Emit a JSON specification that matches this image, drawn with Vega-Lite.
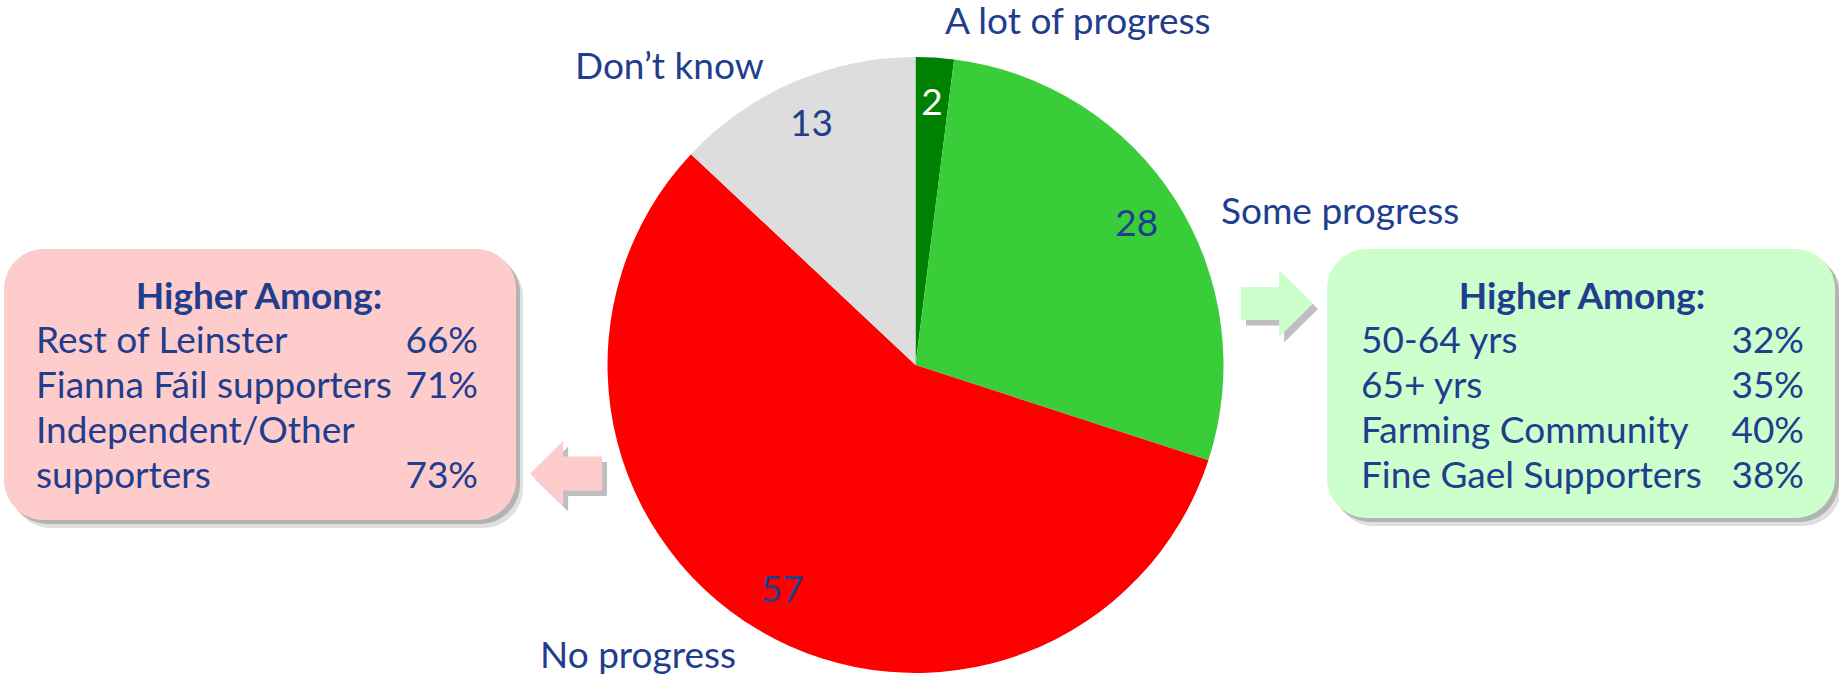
{
  "$schema": "https://vega.github.io/schema/vega-lite/v6.json",
  "width": 1831,
  "height": 622,
  "autosize": {"type": "none"},
  "padding": {"left": 0, "top": 54, "right": 8, "bottom": 0},
  "background": "#FFFFFF",
  "config": {"view": {"stroke": null}, "font": "Lato", "text": {"font": "Lato", "fontSize": 37, "color": "#213D8E"}},
  "datasets": {
    "pie": [
      {"category": "A lot of progress", "value": 2, "seq": 1},
      {"category": "Some progress", "value": 28, "seq": 2},
      {"category": "No progress", "value": 57, "seq": 3},
      {"category": "Don’t know", "value": 13, "seq": 4}
    ],
    "boxes": [
      {"group": "No progress", "header": "Higher Among:", "labels": ["Rest of Leinster", "Fianna Fáil supporters", "Independent/Other", "supporters"], "pcts": ["66%", "71%", "\u200B", "73%"]},
      {"group": "Some progress", "header": "Higher Among:", "labels": ["50-64 yrs", "65+ yrs", "Farming Community", "Fine Gael Supporters"], "pcts": ["32%", "35%", "40%", "38%"]}
    ]
  },
  "data": {"name": "pie"},
  "layer": [
    {
      "mark": {"type": "arc", "outerRadius": 308},
      "encoding": {
        "theta": {"field": "value", "type": "quantitative", "stack": true},
        "order": {"field": "seq", "type": "quantitative"},
        "color": {"field": "category", "type": "nominal", "legend": null,
          "scale": {"domain": ["A lot of progress", "Some progress", "No progress", "Don’t know"], "range": ["#008000", "#3ACD3A", "#FF0000", "#DDDDDD"]}}
      }
    },
    {
      "mark": {"type": "text", "radius": 262, "baseline": "middle", "align": "center", "fontSize": 37},
      "encoding": {
        "theta": {"field": "value", "type": "quantitative", "stack": true},
        "order": {"field": "seq", "type": "quantitative"},
        "text": {"field": "value", "type": "quantitative"},
        "color": {"condition": {"test": "datum.category === 'A lot of progress'", "value": "#FFFFFF"}, "value": "#213D8E"}
      }
    },
    {
      "transform": [{"filter": "datum.category === 'A lot of progress'"}],
      "mark": {"type": "text", "align": "left", "baseline": "alphabetic"},
      "encoding": {
        "text": {"field": "category", "type": "nominal"},
        "x": {"datum": 945, "type": "quantitative", "scale": {"domain": [0, 1831], "nice": false, "zero": false}, "axis": null},
        "y": {"datum": 34, "type": "quantitative", "scale": {"domain": [54, 676], "nice": false, "zero": false, "reverse": true}, "axis": null}
      }
    },
    {
      "transform": [{"filter": "datum.category === 'Some progress'"}],
      "mark": {"type": "text", "align": "left", "baseline": "alphabetic"},
      "encoding": {
        "text": {"field": "category", "type": "nominal"},
        "x": {"datum": 1221, "type": "quantitative", "scale": {"domain": [0, 1831], "nice": false, "zero": false}, "axis": null},
        "y": {"datum": 224, "type": "quantitative", "scale": {"domain": [54, 676], "nice": false, "zero": false, "reverse": true}, "axis": null}
      }
    },
    {
      "transform": [{"filter": "datum.category === 'No progress'"}],
      "mark": {"type": "text", "align": "left", "baseline": "alphabetic"},
      "encoding": {
        "text": {"field": "category", "type": "nominal"},
        "x": {"datum": 540, "type": "quantitative", "scale": {"domain": [0, 1831], "nice": false, "zero": false}, "axis": null},
        "y": {"datum": 668, "type": "quantitative", "scale": {"domain": [54, 676], "nice": false, "zero": false, "reverse": true}, "axis": null}
      }
    },
    {
      "transform": [{"filter": "datum.category === 'Don’t know'"}],
      "mark": {"type": "text", "align": "left", "baseline": "alphabetic"},
      "encoding": {
        "text": {"field": "category", "type": "nominal"},
        "x": {"datum": 575, "type": "quantitative", "scale": {"domain": [0, 1831], "nice": false, "zero": false}, "axis": null},
        "y": {"datum": 79, "type": "quantitative", "scale": {"domain": [54, 676], "nice": false, "zero": false, "reverse": true}, "axis": null}
      }
    },
    {
      "data": {"name": "boxes"},
      "transform": [{"filter": "datum.group === 'No progress'"}],
      "mark": {"type": "rect", "cornerRadius": 40, "color": "#000000", "opacity": 0.12},
      "encoding": {
        "x": {"datum": 11, "type": "quantitative", "scale": {"domain": [0, 1831], "nice": false, "zero": false}, "axis": null},
        "x2": {"datum": 523},
        "y": {"datum": 257, "type": "quantitative", "scale": {"domain": [54, 676], "nice": false, "zero": false, "reverse": true}, "axis": null},
        "y2": {"datum": 528}
      }
    },
    {
      "data": {"name": "boxes"},
      "transform": [{"filter": "datum.group === 'No progress'"}],
      "mark": {"type": "rect", "cornerRadius": 40, "color": "#000000", "opacity": 0.2},
      "encoding": {
        "x": {"datum": 8, "type": "quantitative", "scale": {"domain": [0, 1831], "nice": false, "zero": false}, "axis": null},
        "x2": {"datum": 520},
        "y": {"datum": 253, "type": "quantitative", "scale": {"domain": [54, 676], "nice": false, "zero": false, "reverse": true}, "axis": null},
        "y2": {"datum": 524}
      }
    },
    {
      "data": {"name": "boxes"},
      "transform": [{"filter": "datum.group === 'No progress'"}],
      "mark": {"type": "rect", "cornerRadius": 40, "color": "#FFCCCC", "opacity": 1},
      "encoding": {
        "x": {"datum": 4, "type": "quantitative", "scale": {"domain": [0, 1831], "nice": false, "zero": false}, "axis": null},
        "x2": {"datum": 516},
        "y": {"datum": 249, "type": "quantitative", "scale": {"domain": [54, 676], "nice": false, "zero": false, "reverse": true}, "axis": null},
        "y2": {"datum": 520}
      }
    },
    {
      "data": {"name": "boxes"},
      "transform": [{"filter": "datum.group === 'No progress'"}],
      "mark": {"type": "point", "shape": "M1,-0.47L-0.08,-0.47L-0.08,-0.9L-1,0L-0.08,0.9L-0.08,0.47L1,0.47Z", "filled": true, "size": 5184, "color": "#000000", "opacity": 0.25, "strokeWidth": 0},
      "encoding": {
        "x": {"datum": 571, "type": "quantitative", "scale": {"domain": [0, 1831], "nice": false, "zero": false}, "axis": null},
        "y": {"datum": 479, "type": "quantitative", "scale": {"domain": [54, 676], "nice": false, "zero": false, "reverse": true}, "axis": null}
      }
    },
    {
      "data": {"name": "boxes"},
      "transform": [{"filter": "datum.group === 'No progress'"}],
      "mark": {"type": "point", "shape": "M1,-0.47L-0.08,-0.47L-0.08,-0.9L-1,0L-0.08,0.9L-0.08,0.47L1,0.47Z", "filled": true, "size": 5184, "color": "#FFCCCC", "opacity": 1, "strokeWidth": 0},
      "encoding": {
        "x": {"datum": 566, "type": "quantitative", "scale": {"domain": [0, 1831], "nice": false, "zero": false}, "axis": null},
        "y": {"datum": 473.5, "type": "quantitative", "scale": {"domain": [54, 676], "nice": false, "zero": false, "reverse": true}, "axis": null}
      }
    },
    {
      "data": {"name": "boxes"},
      "transform": [{"filter": "datum.group === 'No progress'"}],
      "mark": {"type": "text", "align": "center", "baseline": "alphabetic", "fontWeight": "bold"},
      "encoding": {
        "text": {"field": "header", "type": "nominal"},
        "x": {"datum": 259, "type": "quantitative", "scale": {"domain": [0, 1831], "nice": false, "zero": false}, "axis": null},
        "y": {"datum": 309, "type": "quantitative", "scale": {"domain": [54, 676], "nice": false, "zero": false, "reverse": true}, "axis": null}
      }
    },
    {
      "data": {"name": "boxes"},
      "transform": [{"filter": "datum.group === 'No progress'"}],
      "mark": {"type": "text", "align": "left", "baseline": "alphabetic", "lineHeight": 45},
      "encoding": {
        "text": {"field": "labels", "type": "nominal"},
        "x": {"datum": 36, "type": "quantitative", "scale": {"domain": [0, 1831], "nice": false, "zero": false}, "axis": null},
        "y": {"datum": 353, "type": "quantitative", "scale": {"domain": [54, 676], "nice": false, "zero": false, "reverse": true}, "axis": null}
      }
    },
    {
      "data": {"name": "boxes"},
      "transform": [{"filter": "datum.group === 'No progress'"}],
      "mark": {"type": "text", "align": "right", "baseline": "alphabetic", "lineHeight": 45},
      "encoding": {
        "text": {"field": "pcts", "type": "nominal"},
        "x": {"datum": 478, "type": "quantitative", "scale": {"domain": [0, 1831], "nice": false, "zero": false}, "axis": null},
        "y": {"datum": 353, "type": "quantitative", "scale": {"domain": [54, 676], "nice": false, "zero": false, "reverse": true}, "axis": null}
      }
    },
    {
      "data": {"name": "boxes"},
      "transform": [{"filter": "datum.group === 'Some progress'"}],
      "mark": {"type": "rect", "cornerRadius": 40, "color": "#000000", "opacity": 0.12},
      "encoding": {
        "x": {"datum": 1334, "type": "quantitative", "scale": {"domain": [0, 1831], "nice": false, "zero": false}, "axis": null},
        "x2": {"datum": 1842},
        "y": {"datum": 257, "type": "quantitative", "scale": {"domain": [54, 676], "nice": false, "zero": false, "reverse": true}, "axis": null},
        "y2": {"datum": 526}
      }
    },
    {
      "data": {"name": "boxes"},
      "transform": [{"filter": "datum.group === 'Some progress'"}],
      "mark": {"type": "rect", "cornerRadius": 40, "color": "#000000", "opacity": 0.2},
      "encoding": {
        "x": {"datum": 1331, "type": "quantitative", "scale": {"domain": [0, 1831], "nice": false, "zero": false}, "axis": null},
        "x2": {"datum": 1839},
        "y": {"datum": 253, "type": "quantitative", "scale": {"domain": [54, 676], "nice": false, "zero": false, "reverse": true}, "axis": null},
        "y2": {"datum": 522}
      }
    },
    {
      "data": {"name": "boxes"},
      "transform": [{"filter": "datum.group === 'Some progress'"}],
      "mark": {"type": "rect", "cornerRadius": 40, "color": "#CCFFCC", "opacity": 1},
      "encoding": {
        "x": {"datum": 1327, "type": "quantitative", "scale": {"domain": [0, 1831], "nice": false, "zero": false}, "axis": null},
        "x2": {"datum": 1835},
        "y": {"datum": 249, "type": "quantitative", "scale": {"domain": [54, 676], "nice": false, "zero": false, "reverse": true}, "axis": null},
        "y2": {"datum": 518}
      }
    },
    {
      "data": {"name": "boxes"},
      "transform": [{"filter": "datum.group === 'Some progress'"}],
      "mark": {"type": "point", "shape": "M-1,-0.46L0.06,-0.46L0.06,-0.93L1,0L0.06,0.93L0.06,0.46L-1,0.46Z", "filled": true, "size": 5184, "color": "#000000", "opacity": 0.25, "strokeWidth": 0},
      "encoding": {
        "x": {"datum": 1282, "type": "quantitative", "scale": {"domain": [0, 1831], "nice": false, "zero": false}, "axis": null},
        "y": {"datum": 309, "type": "quantitative", "scale": {"domain": [54, 676], "nice": false, "zero": false, "reverse": true}, "axis": null}
      }
    },
    {
      "data": {"name": "boxes"},
      "transform": [{"filter": "datum.group === 'Some progress'"}],
      "mark": {"type": "point", "shape": "M-1,-0.46L0.06,-0.46L0.06,-0.93L1,0L0.06,0.93L0.06,0.46L-1,0.46Z", "filled": true, "size": 5184, "color": "#CCFFCC", "opacity": 1, "strokeWidth": 0},
      "encoding": {
        "x": {"datum": 1277, "type": "quantitative", "scale": {"domain": [0, 1831], "nice": false, "zero": false}, "axis": null},
        "y": {"datum": 303.5, "type": "quantitative", "scale": {"domain": [54, 676], "nice": false, "zero": false, "reverse": true}, "axis": null}
      }
    },
    {
      "data": {"name": "boxes"},
      "transform": [{"filter": "datum.group === 'Some progress'"}],
      "mark": {"type": "text", "align": "center", "baseline": "alphabetic", "fontWeight": "bold"},
      "encoding": {
        "text": {"field": "header", "type": "nominal"},
        "x": {"datum": 1582, "type": "quantitative", "scale": {"domain": [0, 1831], "nice": false, "zero": false}, "axis": null},
        "y": {"datum": 309, "type": "quantitative", "scale": {"domain": [54, 676], "nice": false, "zero": false, "reverse": true}, "axis": null}
      }
    },
    {
      "data": {"name": "boxes"},
      "transform": [{"filter": "datum.group === 'Some progress'"}],
      "mark": {"type": "text", "align": "left", "baseline": "alphabetic", "lineHeight": 45},
      "encoding": {
        "text": {"field": "labels", "type": "nominal"},
        "x": {"datum": 1361, "type": "quantitative", "scale": {"domain": [0, 1831], "nice": false, "zero": false}, "axis": null},
        "y": {"datum": 353, "type": "quantitative", "scale": {"domain": [54, 676], "nice": false, "zero": false, "reverse": true}, "axis": null}
      }
    },
    {
      "data": {"name": "boxes"},
      "transform": [{"filter": "datum.group === 'Some progress'"}],
      "mark": {"type": "text", "align": "right", "baseline": "alphabetic", "lineHeight": 45},
      "encoding": {
        "text": {"field": "pcts", "type": "nominal"},
        "x": {"datum": 1804, "type": "quantitative", "scale": {"domain": [0, 1831], "nice": false, "zero": false}, "axis": null},
        "y": {"datum": 353, "type": "quantitative", "scale": {"domain": [54, 676], "nice": false, "zero": false, "reverse": true}, "axis": null}
      }
    }
  ]
}
